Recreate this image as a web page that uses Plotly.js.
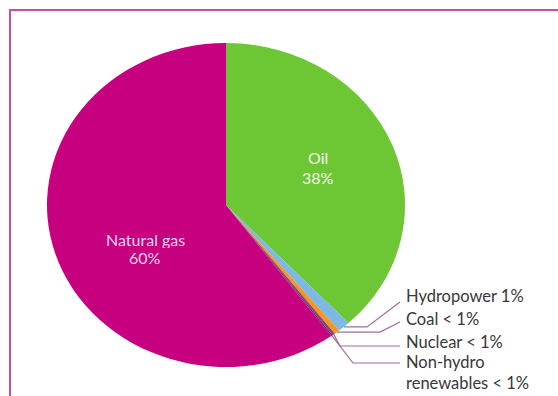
<!DOCTYPE html>
<html>
<head>
<meta charset="utf-8">
<script src="https://cdn.plot.ly/plotly-3.0.1.min.js"></script>
<style>
  html, body { margin: 0; padding: 0; background: #ffffff; overflow: hidden; }
  #chart { width: 558px; height: 396px; }
</style>
</head>
<body>
<div id="chart"></div>
<script>
// Energy sources and their share of the total (percent)
const sources = ['Oil', 'Hydropower', 'Coal', 'Nuclear', 'Non-hydro renewables', 'Natural gas'];
const sharePct = [38, 1.1, 0.5, 0.25, 0.15, 60];
// Text shown for each source (lines split with <br>)
const labelNames = ['Oil', 'Hydropower', 'Coal', 'Nuclear', 'Non-hydro<br>renewables', 'Natural gas'];

const sliceColors = ['#6dc634', '#7db8e6', '#f5961f', '#8c3f7c', '#5e2c5c', '#c6007e'];

function pctText(v) { return v < 1 ? '< 1%' : Math.round(v) + '%'; }

// Canvas and pie geometry (pixels)
const W = 558, H = 396;
const pieCx = 226, pieCy = 205, pieR = 162, stretchX = 1.105;
const px = x => x / W;
const py = y => 1 - y / H;

const domain = {
  x: [px(pieCx - pieR), px(pieCx + pieR)],
  y: [py(pieCy + pieR), py(pieCy - pieR)]
};

// Widen the pie layer horizontally around its centre
const st = document.createElement('style');
st.textContent = '.pielayer{transform:translateX(' + pieCx + 'px) scaleX(' + stretchX +
  ') translateX(' + (-pieCx) + 'px);}';
document.head.appendChild(st);

// Point on the rim at the middle of slice i (clockwise from 12 o'clock)
const total = sharePct.reduce((a, b) => a + b, 0);
function rimPoint(i, k) {
  let before = 0;
  for (let j = 0; j < i; j++) before += sharePct[j];
  const th = 2 * Math.PI * (before + sharePct[i] / 2) / total;
  return [pieCx + pieR * stretchX * k * Math.sin(th), pieCy - pieR * k * Math.cos(th)];
}

const FONT = 'Lato, "Open Sans", sans-serif';
const annotations = [];
const shapes = [];

// One annotation per text line, stacked downward from y0 in fixed-height boxes
function addLines(lines, x, y0, gap, anchor, size, color) {
  lines.forEach((t, n) => {
    annotations.push({
      xref: 'paper', yref: 'paper', x: px(x), y: py(y0 + n * gap),
      xanchor: anchor, yanchor: 'middle', align: anchor, showarrow: false,
      height: gap, borderpad: 0,
      text: t, font: { family: FONT, size: size, color: color }
    });
  });
}

// Labels inside the two large slices
const insideSpots = [
  { i: 0, x: 318, y: 157, gap: 20, color: '#f3fbee' },
  { i: 5, x: 145, y: 239, gap: 18, color: '#f7d3ec' }
];
insideSpots.forEach(s => {
  const lines = labelNames[s.i].split('<br>').concat([pctText(sharePct[s.i])]);
  addLines(lines, s.x, s.y, s.gap, 'center', 16, s.color);
});

// Labels on the right for the small slices, with leader-line bends
const outsideSpots = [
  { i: 1, y: 296, bends: s => [[367, s[1]], [400, 302]] },
  { i: 2, y: 319, bends: s => [[380, s[1]], [400, 322]] },
  { i: 3, y: 342, bends: s => [[340, 346], [400, 346]] },
  { i: 4, y: 372, bends: s => [[353, 363], [400, 363]] }
];
outsideSpots.forEach(s => {
  annotations.push({
    xref: 'paper', yref: 'paper', x: px(405), y: py(s.y),
    xanchor: 'left', yanchor: 'middle', align: 'left', showarrow: false,
    borderpad: 0,
    text: labelNames[s.i] + ' ' + pctText(sharePct[s.i]),
    font: { family: FONT, size: 16.5, color: '#383838' }
  });

  const start = rimPoint(s.i, 1.0);
  const pts = [start].concat(s.bends(start));
  const path = pts.map((p, n) => (n ? 'L' : 'M') + px(p[0]).toFixed(5) + ',' + py(p[1]).toFixed(5)).join(' ');
  shapes.push({
    type: 'path', xref: 'paper', yref: 'paper', path: path,
    line: { color: '#a06c9c', width: 1.2 }
  });
});

// Frame around the figure
shapes.push({
  type: 'rect', xref: 'paper', yref: 'paper',
  x0: px(10), y0: -0.2, x1: 1.2, y1: py(10),
  line: { color: '#c24ea8', width: 2 }
});

const trace = {
  type: 'pie',
  labels: sources,
  values: sharePct,
  sort: false,
  direction: 'clockwise',
  rotation: 0,
  domain: domain,
  marker: { colors: sliceColors, line: { width: 0 } },
  textinfo: 'none',
  hoverinfo: 'skip',
  showlegend: false
};

const layout = {
  width: W, height: H,
  margin: { l: 0, r: 0, t: 0, b: 0 },
  paper_bgcolor: '#ffffff',
  plot_bgcolor: '#ffffff',
  showlegend: false,
  annotations: annotations,
  shapes: shapes
};

Plotly.newPlot('chart', [trace], layout, { displayModeBar: false, staticPlot: true });
</script>
</body>
</html>
